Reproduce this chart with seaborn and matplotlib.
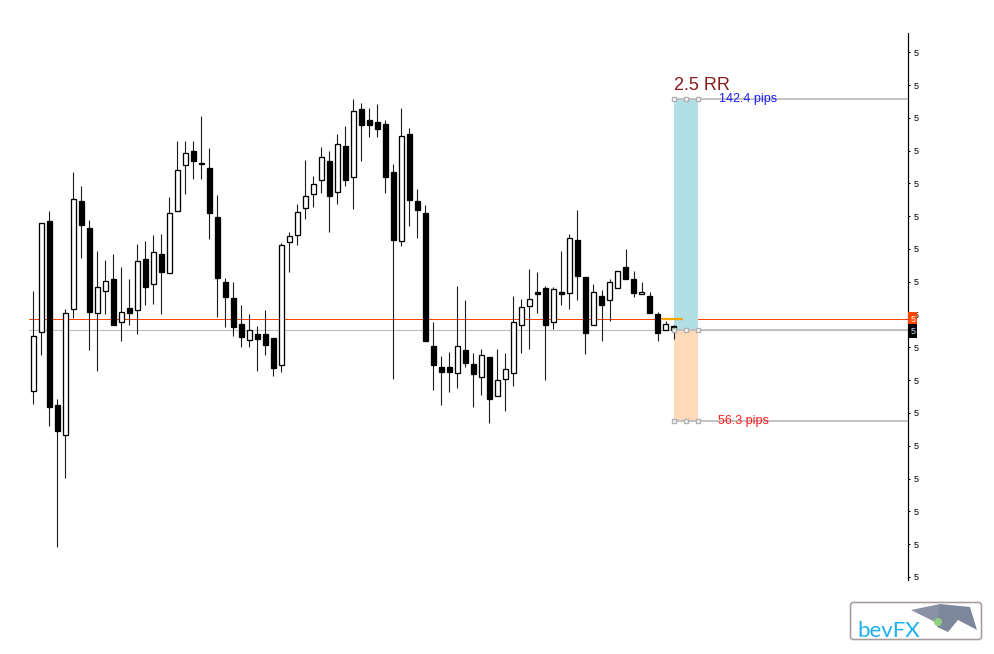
import numpy as np
import pandas as pd
import seaborn as sns
import matplotlib
matplotlib.use("Agg")
import matplotlib.pyplot as plt
import matplotlib.transforms as mtransforms
from matplotlib.patches import FancyBboxPatch, Polygon, Circle

# OHLC prices (81 candles, oldest first)
opens = [5.1939, 5.1998, 5.2109, 5.1925, 5.1895, 5.2021, 5.2129, 5.2102, 5.2017, 5.2039,
         5.2051, 5.2008, 5.2022, 5.2020, 5.2071, 5.2046, 5.2076, 5.2057, 5.2119, 5.2165,
         5.2179, 5.2167, 5.2162, 5.2113, 5.2048, 5.2032, 5.2006, 5.1990, 5.1996, 5.1996,
         5.1992, 5.1965, 5.2088, 5.2095, 5.2122, 5.2136, 5.2150, 5.2169, 5.2138, 5.2184,
         5.2153, 5.2221, 5.2210, 5.2208, 5.2206, 5.2158, 5.2089, 5.2196, 5.2129, 5.2117,
         5.1984, 5.1963, 5.1963, 5.1957, 5.1980, 5.1966, 5.1953, 5.1973, 5.1934, 5.1951,
         5.1957, 5.2005, 5.2024, 5.2038, 5.2042, 5.2008, 5.2038, 5.2037, 5.2090, 5.2053,
         5.2005, 5.2034, 5.2030, 5.2042, 5.2063, 5.2051, 5.2036, 5.2034, 5.2016, 5.2000,
         5.2004]
highs = [5.2039, 5.2107, 5.2119, 5.1931, 5.2021, 5.2158, 5.2144, 5.2110, 5.2079, 5.2070,
         5.2076, 5.2063, 5.2051, 5.2086, 5.2089, 5.2095, 5.2096, 5.2133, 5.2189, 5.2189,
         5.2189, 5.2214, 5.2182, 5.2135, 5.2052, 5.2048, 5.2025, 5.2016, 5.2004, 5.2020,
         5.1992, 5.2087, 5.2098, 5.2126, 5.2170, 5.2154, 5.2183, 5.2179, 5.2196, 5.2204,
         5.2231, 5.2227, 5.2222, 5.2226, 5.2210, 5.2166, 5.2222, 5.2202, 5.2141, 5.2125,
         5.2008, 5.1974, 5.1978, 5.2044, 5.2030, 5.1977, 5.1981, 5.1973, 5.1981, 5.1977,
         5.2034, 5.2031, 5.2061, 5.2058, 5.2044, 5.2043, 5.2079, 5.2096, 5.2120, 5.2053,
         5.2046, 5.2040, 5.2051, 5.2059, 5.2081, 5.2059, 5.2048, 5.2038, 5.2018, 5.2009,
         5.2005]
lows = [5.1926, 5.1975, 5.1904, 5.1783, 5.1852, 5.2012, 5.2072, 5.1980, 5.1959, 5.2016,
        5.2005, 5.1989, 5.2005, 5.1996, 5.2025, 5.2026, 5.2016, 5.2057, 5.2119, 5.2136,
        5.2151, 5.2151, 5.2091, 5.2013, 5.2003, 5.1994, 5.1983, 5.1983, 5.1959, 5.1975,
        5.1954, 5.1958, 5.2058, 5.2085, 5.2111, 5.2123, 5.2137, 5.2098, 5.2126, 5.2144,
        5.2121, 5.2169, 5.2193, 5.2193, 5.2137, 5.1951, 5.2084, 5.2104, 5.2092, 5.1989,
        5.1940, 5.1925, 5.1938, 5.1942, 5.1963, 5.1923, 5.1935, 5.1907, 5.1934, 5.1919,
        5.1944, 5.1977, 5.1981, 5.2017, 5.1950, 5.2001, 5.2025, 5.2021, 5.2030, 5.1976,
        5.2005, 5.1989, 5.2009, 5.2042, 5.2051, 5.2033, 5.2036, 5.2017, 5.1989, 5.2000,
        5.1991]
closes = [5.1994, 5.2107, 5.1923, 5.1899, 5.2017, 5.2131, 5.2105, 5.2018, 5.2043, 5.2049,
          5.2005, 5.2018, 5.2017, 5.2069, 5.2043, 5.2078, 5.2058, 5.2117, 5.2160, 5.2177,
          5.2169, 5.2166, 5.2117, 5.2052, 5.2033, 5.2003, 5.1993, 5.2000, 5.1991, 5.1985,
          5.1962, 5.2085, 5.2094, 5.2118, 5.2134, 5.2146, 5.2173, 5.2134, 5.2186, 5.2150,
          5.2219, 5.2205, 5.2205, 5.2201, 5.2153, 5.2090, 5.2194, 5.2130, 5.2120, 5.1989,
          5.1965, 5.1958, 5.1958, 5.1984, 5.1967, 5.1956, 5.1975, 5.1931, 5.1950, 5.1961,
          5.2008, 5.2023, 5.2031, 5.2036, 5.2005, 5.2041, 5.2036, 5.2092, 5.2054, 5.1997,
          5.2038, 5.2025, 5.2048, 5.2059, 5.2051, 5.2037, 5.2038, 5.2017, 5.1997, 5.2006,
          5.2000]

# trade levels
entry_price = 5.2000
tp_price = 5.2231
sl_price = 5.1909
ask_price = 5.2011
rr_text = "2.5 RR"
tp_text = "142.4 pips"
sl_text = "56.3 pips"
tick_labels = ["5"] * 17

df = pd.DataFrame({"open": opens, "high": highs, "low": lows, "close": closes})
df["x"] = np.arange(len(df))
df["bull"] = df["close"] >= df["open"]

sns.set_theme(style="white")
plt.rcParams["font.family"] = ["Liberation Sans", "DejaVu Sans"]

fig = plt.figure(figsize=(9.94, 6.54), dpi=100)
ax = fig.add_axes([29 / 994, 74 / 654, 879 / 994, 547 / 654])
px = 0.72  # one pixel in points

# wicks
ax.vlines(df["x"], df["low"], df["high"], color="#1a1a1a", lw=1.1 * px, zorder=2)
# bodies
body_low = df[["open", "close"]].min(axis=1)
body_h = (df["close"] - df["open"]).abs()
ax.bar(df["x"], body_h, bottom=body_low, width=0.6,
       color=np.where(df["bull"], "white", "black"),
       edgecolor="black", linewidth=1.3 * px, zorder=3)

last = df["x"].iloc[-1]
box_l, box_r = last + 0.1, last + 3.1
x_right = 109.3

# price lines
ax.axhline(ask_price, color="#ff4500", lw=1 * px, zorder=1)
ax.axhline(entry_price, color="#c0c0c0", lw=1.2 * px, zorder=1)
ax.hlines(ask_price, last - 1.6, last + 1.2, color="#ffa500", lw=2.2 * px, zorder=4)

# risk/reward tool
ax.fill_between([box_l, box_r], entry_price, tp_price, color="#b0e0e6", lw=0, zorder=1.5)
ax.fill_between([box_l, box_r], sl_price, entry_price, color="#ffdab9", lw=0, zorder=1.5)
for lvl in [tp_price, entry_price, sl_price]:
    ax.hlines(lvl, box_l, x_right, color="#bdbdbd", lw=1.8 * px, zorder=4)
    ax.plot([box_l, (box_l + box_r) / 2, box_r], [lvl] * 3, ls="none", marker="s",
            ms=4.5 * px, mfc="white", mec="#b0b0b0", mew=1.4 * px, zorder=5)

ax.text(box_l - 0.1, tp_price + 0.0009, rr_text, color="#8b1a1a", fontsize=13,
        ha="left", va="baseline", zorder=6)
ax.text(85.7, tp_price, tp_text, color="#1c1cff", fontsize=9, ha="left", va="center", zorder=6)
ax.text(85.6, sl_price, sl_text, color="#ff1c1c", fontsize=9, ha="left", va="center", zorder=6)

ax.set_xlim(-0.54, x_right)
ax.set_ylim(5.1750, 5.2297)

# right price scale
yt = 5.1753 + 0.00328 * np.arange(len(tick_labels))
ax.yaxis.tick_right()
ax.set_yticks(yt)
ax.set_yticklabels(tick_labels)
ax.tick_params(axis="y", right=True, length=2 * px, width=1 * px, pad=4 * px,
               labelsize=6.5, colors="black")
ax.set_xticks([])
for side in ["left", "top", "bottom"]:
    ax.spines[side].set_visible(False)
ax.spines["right"].set_color("black")
ax.spines["right"].set_linewidth(1.2 * px)

trans = mtransforms.blended_transform_factory(ax.transAxes, ax.transData)
ax.text(1.0025, ask_price, "5", transform=trans, color="white", fontsize=6.5,
        ha="left", va="center", clip_on=False, zorder=7,
        bbox=dict(boxstyle="square,pad=0.25", fc="#ff4500", ec="none"))
ax.text(1.0025, entry_price - 0.0001, "5", transform=trans, color="#cfe3ff", fontsize=6.5,
        ha="left", va="center", clip_on=False, zorder=7,
        bbox=dict(boxstyle="square,pad=0.25", fc="black", ec="none"))

# bevFX logo box
lg = fig.add_axes([849 / 994, 13 / 654, 134 / 994, 40 / 654])
lg.set_xlim(0, 134)
lg.set_ylim(40, 0)
lg.axis("off")
lg.add_patch(FancyBboxPatch((1.5, 1.5), 131, 37, boxstyle="round,pad=0,rounding_size=3",
                            fc="white", ec="#a89c9c", lw=1.6 * px))
lg.add_patch(Polygon([(62, 9), (91, 3), (103, 24), (86, 21)], closed=True,
                     fc="#8a93a6", ec="none"))
lg.add_patch(Polygon([(91, 3), (121, 6), (128, 29), (109, 19), (99, 31), (88, 26)],
                     closed=True, fc="#7d879c", ec="none"))
lg.add_patch(Circle((89, 21), 4, fc="#8fd17f", ec="none"))
lg.text(8, 36, "bevFX", color="#1eb0ee", fontsize=16, family=["Lato", "DejaVu Sans"],
        ha="left", va="baseline")

fig.savefig("out.png", dpi=100, facecolor="white")
